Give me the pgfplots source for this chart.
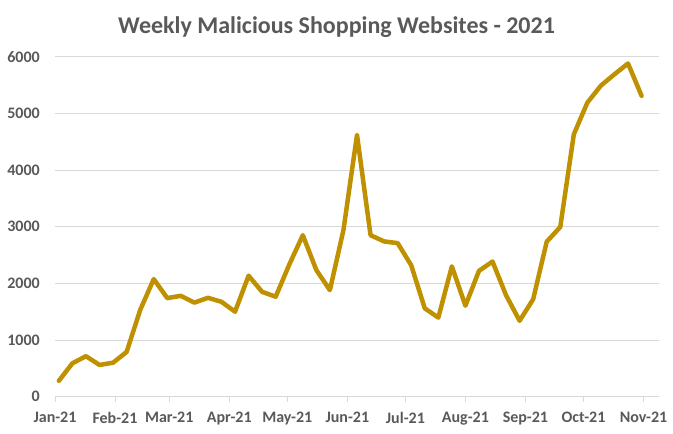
\documentclass[border=0pt]{standalone}
\usepackage{pgfplots}
\pgfplotsset{compat=1.18}
\usepackage{fontspec}
\setmainfont{Carlito}
\definecolor{gold}{HTML}{BF9000}
\definecolor{txt}{HTML}{595959}
\definecolor{gridc}{HTML}{D9D9D9}
\begin{document}
\begin{tikzpicture}[x=1pt,y=1pt]
\useasboundingbox (0,0) rectangle (673,434);
\node[anchor=base, font=\fontsize{24}{28}\selectfont\bfseries, text=txt, inner sep=0] at (336.5,400.7) {Weekly Malicious Shopping Websites - 2021};
\begin{axis}[
  at={(55pt,37.3pt)}, anchor=south west,
  scale only axis, width=604pt, height=340pt,
  xmin=0, xmax=312, ymin=0, ymax=6000,
  axis x line*=bottom, axis y line*=left,
  x axis line style={draw=gridc, line width=1pt, -},
  y axis line style={draw=none},
  xtick={0,31,59,90,120,151,181,212,243,273,304},
  xticklabels={Jan-21,Feb-21,Mar-21,Apr-21,May-21,Jun-21,Jul-21,Aug-21,Sep-21,Oct-21,Nov-21},
  xtick align=outside,
  major tick length=5pt,
  xtick style={draw=gridc, line width=1pt},
  ytick={0,1000,2000,3000,4000,5000,6000},
  ytick style={draw=none},
  ymajorgrids, grid style={draw=gridc, line width=1pt},
  tick label style={font=\fontsize{16}{18}\selectfont\bfseries, text=txt},
  yticklabel style={inner sep=0pt, anchor=east, xshift=-15pt},
  xticklabel style={inner sep=0pt, anchor=north, yshift=-10pt},
  /pgf/number format/assume math mode=true,
  /pgf/number format/1000 sep={},
  clip=false,
]
\addplot[gold, line width=4.5pt, line join=round, line cap=round] coordinates {
(2,280) (9,590) (16,715) (23,560) (30,600) (37,790) (44,1530) (51,2075)
(58,1740) (65,1780) (72,1660) (79,1745) (86,1675) (93,1500) (100,2135)
(107,1850) (114,1765) (121,2330) (128,2850) (135,2235) (142,1880)
(149,2940) (156,4620) (163,2850) (170,2740) (177,2710) (184,2320)
(191,1560) (198,1395) (205,2300) (212,1605) (219,2220) (226,2385)
(233,1790) (240,1340) (247,1720) (254,2735) (261,2995) (268,4630)
(275,5190) (282,5490) (289,5690) (296,5880) (303,5310)
};
\end{axis}
\end{tikzpicture}
\end{document}
